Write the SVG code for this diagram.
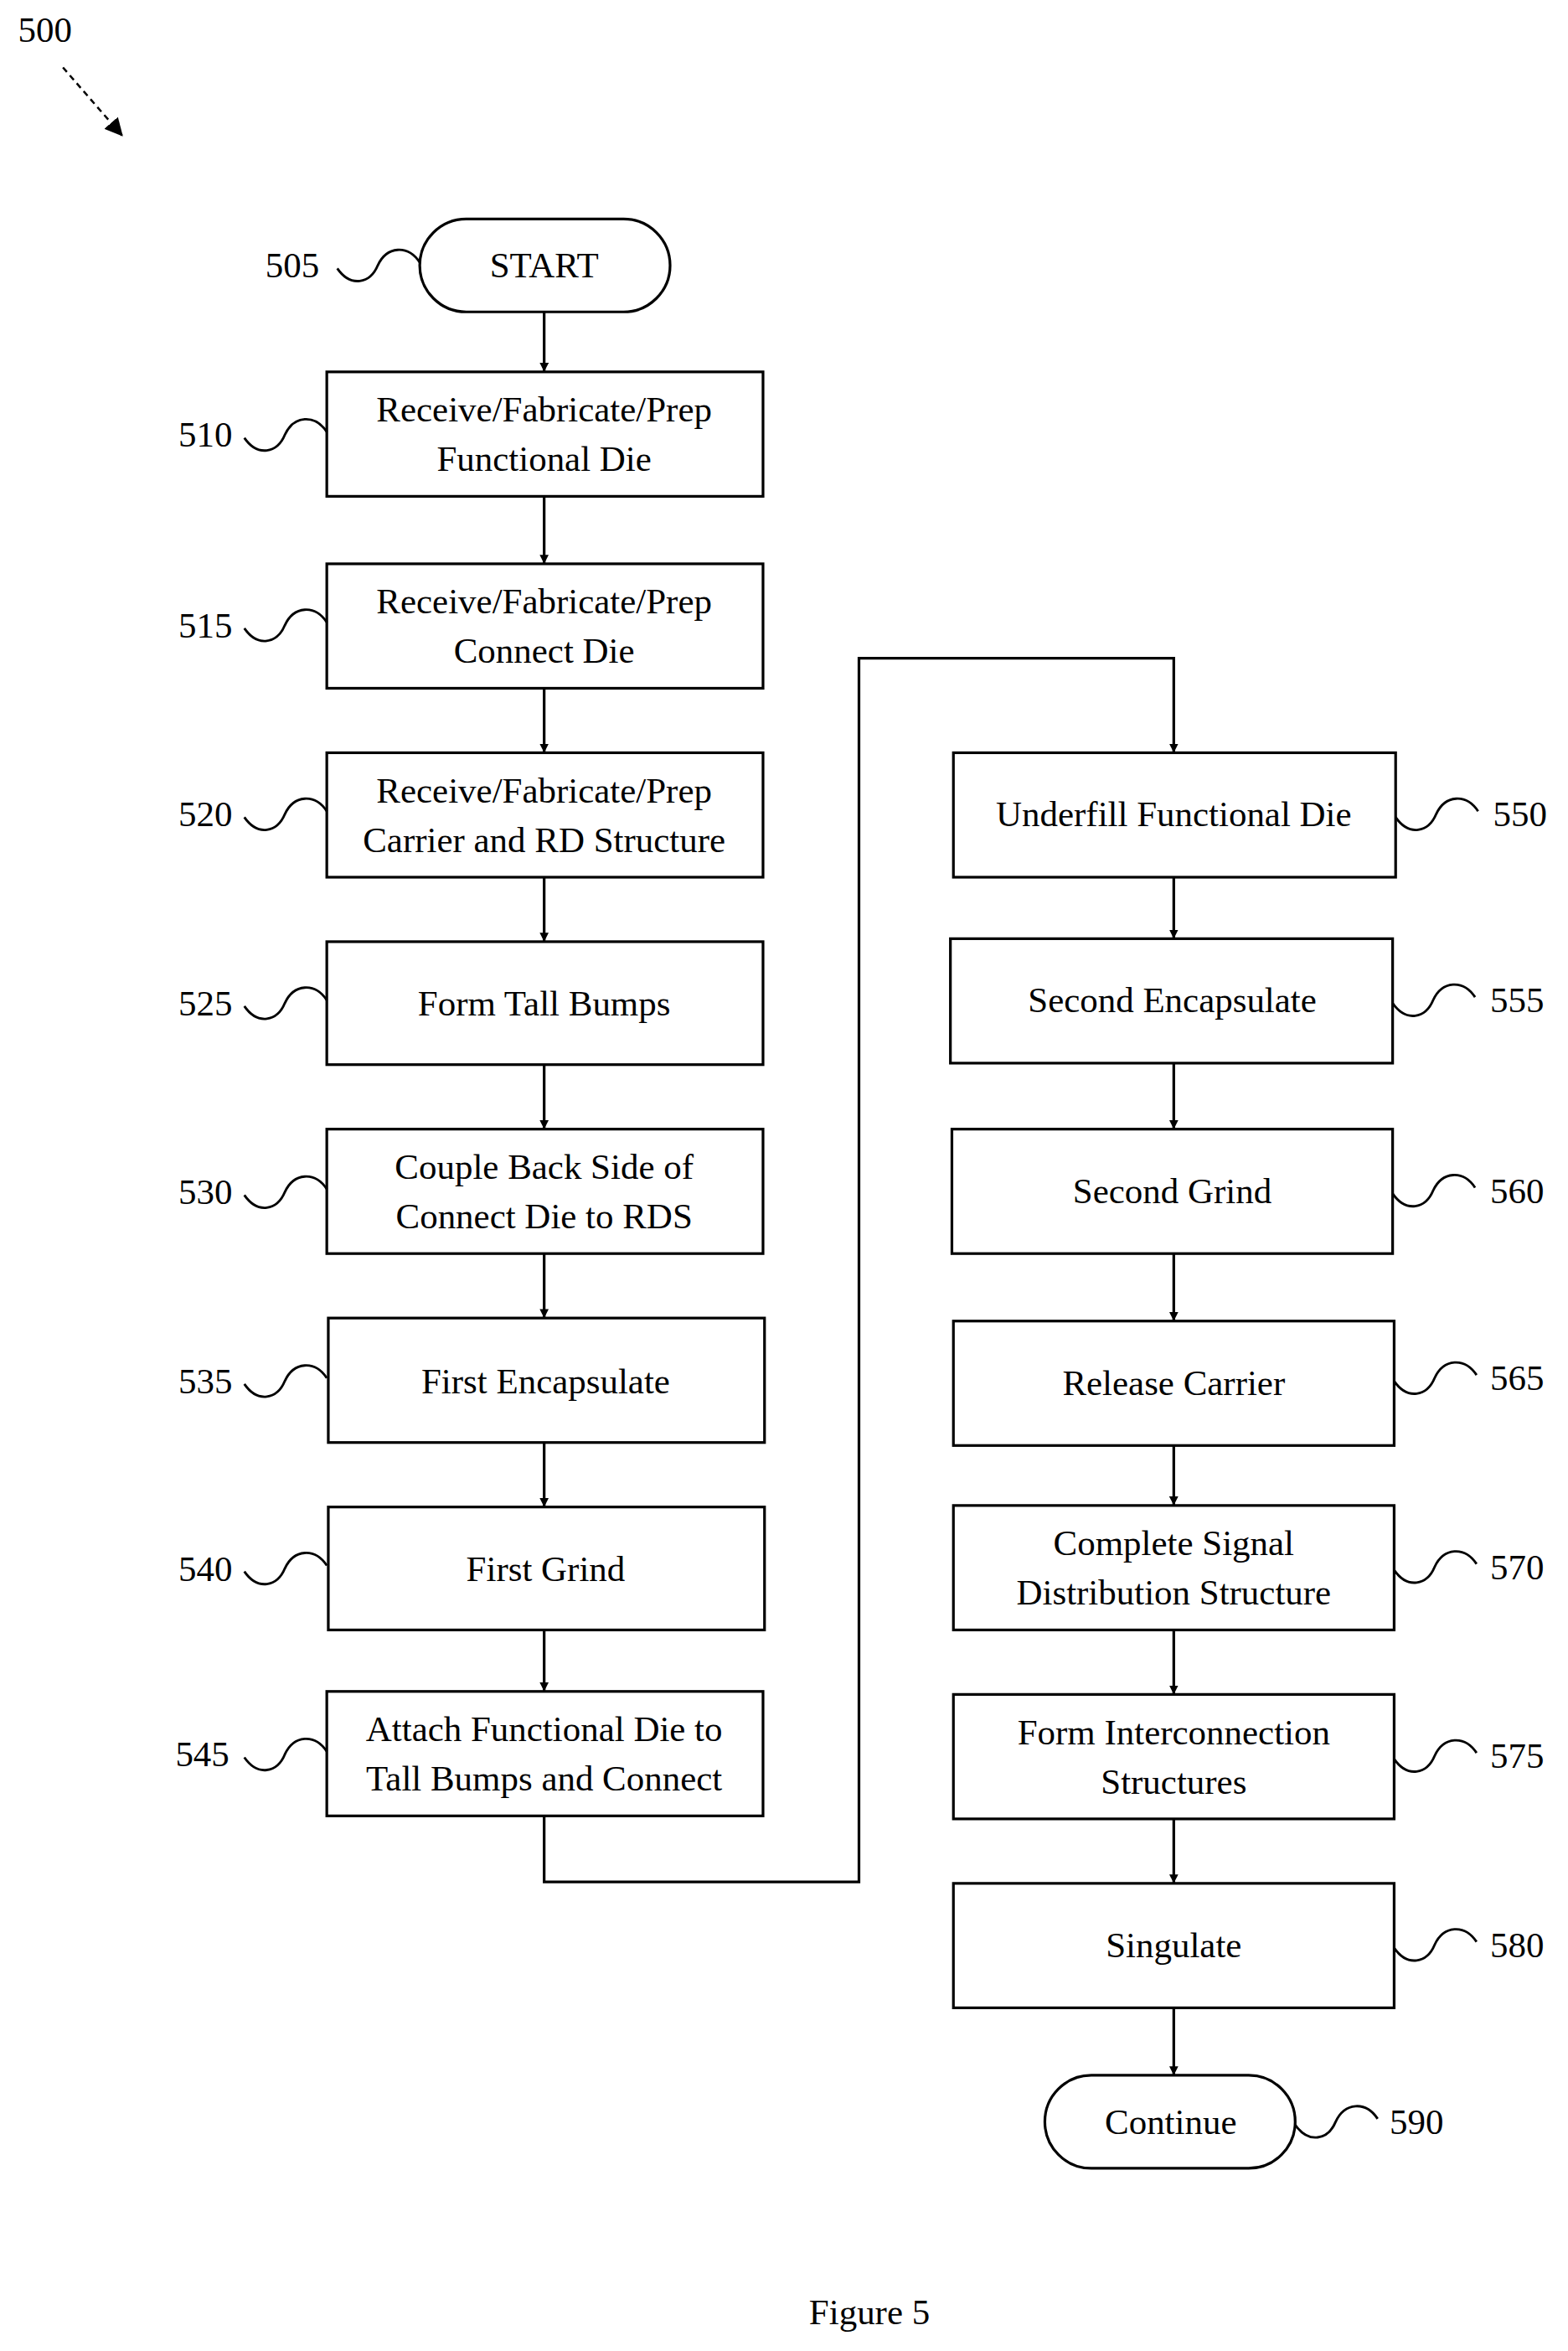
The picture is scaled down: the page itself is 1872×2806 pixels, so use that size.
<svg xmlns="http://www.w3.org/2000/svg" width="1872" height="2806" viewBox="0 0 1872 2806">
<defs>
<marker id="ah" viewBox="0 0 10 10" refX="10" refY="5" markerWidth="6" markerHeight="6" orient="auto" markerUnits="userSpaceOnUse"><path d="M0,0 L10,5 L0,10 z" fill="#000"/></marker>
<marker id="ah2" viewBox="0 0 10 10" refX="10" refY="5" markerWidth="12" markerHeight="12" orient="auto" markerUnits="userSpaceOnUse"><path d="M0,0 L10,5 L0,10 z" fill="#000"/></marker>
<path id="sq" d="M0,2 C9,15 22,12 27,0 C33,-13 47,-14 55,-2" fill="none" stroke="#000" stroke-width="1.6"/>
</defs>
<style>
rect{fill:#fff;stroke:#000;stroke-width:1.8}
text{font-family:"Liberation Serif",serif;font-size:24px;fill:#000;text-anchor:middle;dominant-baseline:central}
.c{fill:none;stroke:#000;stroke-width:1.8}
</style>
<rect x="0" y="0" width="1872" height="2806" style="fill:#fff;stroke:none"/>
<g transform="scale(1.7897)">
<text x="30" y="20">500</text>
<path d="M42,45 L82,91" fill="none" stroke="#000" stroke-width="1.4" stroke-dasharray="4,3" marker-end="url(#ah2)"/>
<g id="connectors">
<path class="c" d="M363,208 V248" marker-end="url(#ah)"/>
<path class="c" d="M363,331 V376" marker-end="url(#ah)"/>
<path class="c" d="M363,459 V502" marker-end="url(#ah)"/>
<path class="c" d="M363,585 V628" marker-end="url(#ah)"/>
<path class="c" d="M363,710 V753" marker-end="url(#ah)"/>
<path class="c" d="M363,836 V879" marker-end="url(#ah)"/>
<path class="c" d="M363,962 V1005" marker-end="url(#ah)"/>
<path class="c" d="M363,1087 V1128" marker-end="url(#ah)"/>
<path class="c" d="M363,1211 V1255 H573 V439 H783 V502" marker-end="url(#ah)"/>
<path class="c" d="M783,585 V626" marker-end="url(#ah)"/>
<path class="c" d="M783,709 V753" marker-end="url(#ah)"/>
<path class="c" d="M783,836 V881" marker-end="url(#ah)"/>
<path class="c" d="M783,964 V1004" marker-end="url(#ah)"/>
<path class="c" d="M783,1087 V1130" marker-end="url(#ah)"/>
<path class="c" d="M783,1213 V1256" marker-end="url(#ah)"/>
<path class="c" d="M783,1339 V1384" marker-end="url(#ah)"/>
</g>
<g id="n505"><rect x="280" y="146" width="167" height="62" rx="31"/><text x="363" y="177">START</text><text x="195" y="177">505</text><use href="#sq" x="225" y="177"/></g>
<g id="n510"><rect x="218" y="248" width="291" height="83"/><text x="363" y="273">Receive/Fabricate/Prep</text><text x="363" y="306">Functional Die</text><text x="137" y="290">510</text><use href="#sq" x="163" y="290"/></g>
<g id="n515"><rect x="218" y="376" width="291" height="83"/><text x="363" y="401">Receive/Fabricate/Prep</text><text x="363" y="434">Connect Die</text><text x="137" y="417">515</text><use href="#sq" x="163" y="417"/></g>
<g id="n520"><rect x="218" y="502" width="291" height="83"/><text x="363" y="527">Receive/Fabricate/Prep</text><text x="363" y="560">Carrier and RD Structure</text><text x="137" y="543">520</text><use href="#sq" x="163" y="543"/></g>
<g id="n525"><rect x="218" y="628" width="291" height="82"/><text x="363" y="669">Form Tall Bumps</text><text x="137" y="669">525</text><use href="#sq" x="163" y="669"/></g>
<g id="n530"><rect x="218" y="753" width="291" height="83"/><text x="363" y="778">Couple Back Side of</text><text x="363" y="811">Connect Die to RDS</text><text x="137" y="795">530</text><use href="#sq" x="163" y="795"/></g>
<g id="n535"><rect x="219" y="879" width="291" height="83"/><text x="364" y="921">First Encapsulate</text><text x="137" y="921">535</text><use href="#sq" x="163" y="921"/></g>
<g id="n540"><rect x="219" y="1005" width="291" height="82"/><text x="364" y="1046">First Grind</text><text x="137" y="1046">540</text><use href="#sq" x="163" y="1046"/></g>
<g id="n545"><rect x="218" y="1128" width="291" height="83"/><text x="363" y="1153">Attach Functional Die to</text><text x="363" y="1186">Tall Bumps and Connect</text><text x="135" y="1170">545</text><use href="#sq" x="163" y="1170"/></g>
<g id="n550"><rect x="636" y="502" width="295" height="83"/><text x="783" y="543">Underfill Functional Die</text><text x="1014" y="543">550</text><use href="#sq" x="931" y="543"/></g>
<g id="n555"><rect x="634" y="626" width="295" height="83"/><text x="782" y="667">Second Encapsulate</text><text x="1012" y="667">555</text><use href="#sq" x="929" y="667"/></g>
<g id="n560"><rect x="635" y="753" width="294" height="83"/><text x="782" y="794">Second Grind</text><text x="1012" y="794">560</text><use href="#sq" x="929" y="794"/></g>
<g id="n565"><rect x="636" y="881" width="294" height="83"/><text x="783" y="922">Release Carrier</text><text x="1012" y="919">565</text><use href="#sq" x="930" y="919"/></g>
<g id="n570"><rect x="636" y="1004" width="294" height="83"/><text x="783" y="1029">Complete Signal</text><text x="783" y="1062">Distribution Structure</text><text x="1012" y="1045">570</text><use href="#sq" x="930" y="1045"/></g>
<g id="n575"><rect x="636" y="1130" width="294" height="83"/><text x="783" y="1155">Form Interconnection</text><text x="783" y="1188">Structures</text><text x="1012" y="1171">575</text><use href="#sq" x="930" y="1171"/></g>
<g id="n580"><rect x="636" y="1256" width="294" height="83"/><text x="783" y="1297">Singulate</text><text x="1012" y="1297">580</text><use href="#sq" x="930" y="1297"/></g>
<g id="n590"><rect x="697" y="1384" width="167" height="62" rx="31"/><text x="781" y="1415">Continue</text><text x="945" y="1415">590</text><use href="#sq" x="864" y="1415"/></g>
<text x="580" y="1542">Figure 5</text>
</g>
</svg>
